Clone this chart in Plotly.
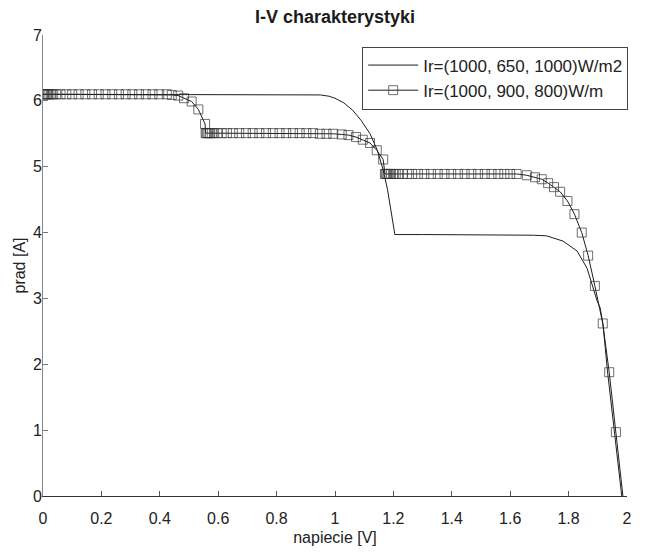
import plotly.graph_objects as go

# ---- data ----
v_solid = [0.0, 0.2, 0.4, 0.6, 0.8, 0.9, 0.95, 0.98, 1.0, 1.03, 1.06, 1.09, 1.12, 1.145,
           1.165, 1.18, 1.193, 1.205, 1.3, 1.4, 1.5, 1.6, 1.64, 1.68, 1.725, 1.781,
           1.829, 1.863, 1.884, 1.897, 1.908, 1.918, 1.933, 1.957, 1.982]
i_solid = [6.10, 6.10, 6.10, 6.10, 6.10, 6.10, 6.09, 6.07, 6.04, 5.97, 5.86, 5.70, 5.50, 5.25,
           4.95, 4.65, 4.30, 3.97, 3.97, 3.97, 3.97, 3.96, 3.96, 3.96, 3.95, 3.87,
           3.72, 3.46, 3.16, 2.97, 2.86, 2.60, 1.90, 0.98, 0.0]

v_mark = [0.0, 0.004, 0.008, 0.012, 0.017, 0.022, 0.028, 0.035, 0.045, 0.06, 0.08, 0.10,
          0.122, 0.145, 0.168, 0.191, 0.214, 0.237, 0.26, 0.283, 0.306, 0.329, 0.352,
          0.375, 0.398, 0.424, 0.441, 0.463, 0.483, 0.509, 0.532, 0.555,
          0.557, 0.56, 0.563, 0.567, 0.572, 0.578, 0.586, 0.597, 0.612, 0.63, 0.65, 0.672,
          0.695, 0.718, 0.741, 0.764, 0.787, 0.81, 0.833, 0.856, 0.879, 0.902, 0.925,
          0.948, 0.971, 0.994, 1.023, 1.046, 1.072, 1.095, 1.12, 1.143, 1.165,
          1.171, 1.174, 1.177, 1.181, 1.186, 1.192, 1.199, 1.208, 1.219, 1.232, 1.247,
          1.264, 1.284, 1.306, 1.329, 1.352, 1.375, 1.398, 1.421, 1.444, 1.467, 1.49,
          1.513, 1.536, 1.559, 1.58, 1.6, 1.622, 1.657, 1.685, 1.708, 1.73, 1.75, 1.771,
          1.796, 1.82, 1.845, 1.867, 1.89, 1.917, 1.939, 1.962, 1.986]
i_mark = [6.10, 6.10, 6.10, 6.10, 6.10, 6.10, 6.10, 6.10, 6.10, 6.10, 6.10, 6.10,
          6.10, 6.10, 6.10, 6.10, 6.10, 6.10, 6.10, 6.10, 6.10, 6.10, 6.10,
          6.10, 6.10, 6.10, 6.09, 6.08, 6.04, 5.99, 5.87, 5.65,
          5.51, 5.51, 5.51, 5.51, 5.51, 5.51, 5.51, 5.51, 5.51, 5.51, 5.51, 5.51,
          5.51, 5.51, 5.51, 5.51, 5.51, 5.51, 5.51, 5.51, 5.51, 5.51, 5.51,
          5.50, 5.50, 5.50, 5.49, 5.48, 5.45, 5.41, 5.36, 5.25, 5.11,
          4.89, 4.89, 4.89, 4.89, 4.89, 4.89, 4.89, 4.89, 4.89, 4.89, 4.89,
          4.89, 4.89, 4.89, 4.89, 4.89, 4.89, 4.89, 4.89, 4.89, 4.89, 4.89,
          4.89, 4.89, 4.89, 4.89, 4.89, 4.89, 4.87, 4.84, 4.81, 4.75, 4.69, 4.62,
          4.48, 4.28, 4.00, 3.65, 3.19, 2.62, 1.88, 0.97, 0.0]

name_solid = "Ir=(1000, 650, 1000)W/m2"
name_mark = "Ir=(1000, 900, 800)W/m"
title_text = "I-V charakterystyki"
x_title = "napiecie [V]"
y_title = "prad [A]"

FONT = "Liberation Sans, Arial, sans-serif"
marker_sizes = [9] * (len(v_mark) - 1) + [0]

fig = go.Figure()
fig.add_trace(go.Scatter(
    x=v_solid, y=i_solid, mode="lines", name=name_solid,
    line=dict(color="#1e1e1e", width=1),
))
fig.add_trace(go.Scatter(
    x=v_mark, y=i_mark, mode="lines+markers", name=name_mark,
    line=dict(color="#1e1e1e", width=1),
    marker=dict(symbol="square-open", size=marker_sizes, color="#333333",
                line=dict(width=1, color="#333333")),
))

fig.update_layout(
    width=646, height=552,
    margin=dict(l=35, r=27, t=27, b=64),
    paper_bgcolor="white", plot_bgcolor="white",
    font=dict(family=FONT, size=16, color="#222222"),
    title=dict(text="<b>" + title_text + "</b>", x=0.5, xref="paper", xanchor="center",
               y=1 - 2 / 552, yanchor="top", yref="container",
               pad=dict(t=0, b=0, l=0, r=0),
               font=dict(family=FONT, size=18, color="#1a1a1a")),
    showlegend=True,
    legend=dict(x=1.002, y=0.975, xanchor="right", yanchor="top",
                bgcolor="white", bordercolor="#444444", borderwidth=1,
                font=dict(family=FONT, size=17, color="#222222"),
                itemwidth=50, tracegroupgap=0),
    xaxis=dict(range=[0, 2], dtick=0.2, tick0=0, showgrid=False, zeroline=False,
               showline=True, linecolor="#333333", linewidth=1,
               ticks="inside", ticklen=5, tickcolor="#555555",
               ticklabelstandoff=8,
               title=dict(text=x_title, standoff=5, font=dict(size=16))),
    yaxis=dict(range=[0, 7], dtick=1, tick0=0, showgrid=False, zeroline=False,
               showline=True, linecolor="#888888", linewidth=1,
               ticks="inside", ticklen=5, tickcolor="#777777",
               ticklabelstandoff=-3,
               title=dict(text=y_title, standoff=3, font=dict(size=16))),
)

fig.write_html("out.html")
